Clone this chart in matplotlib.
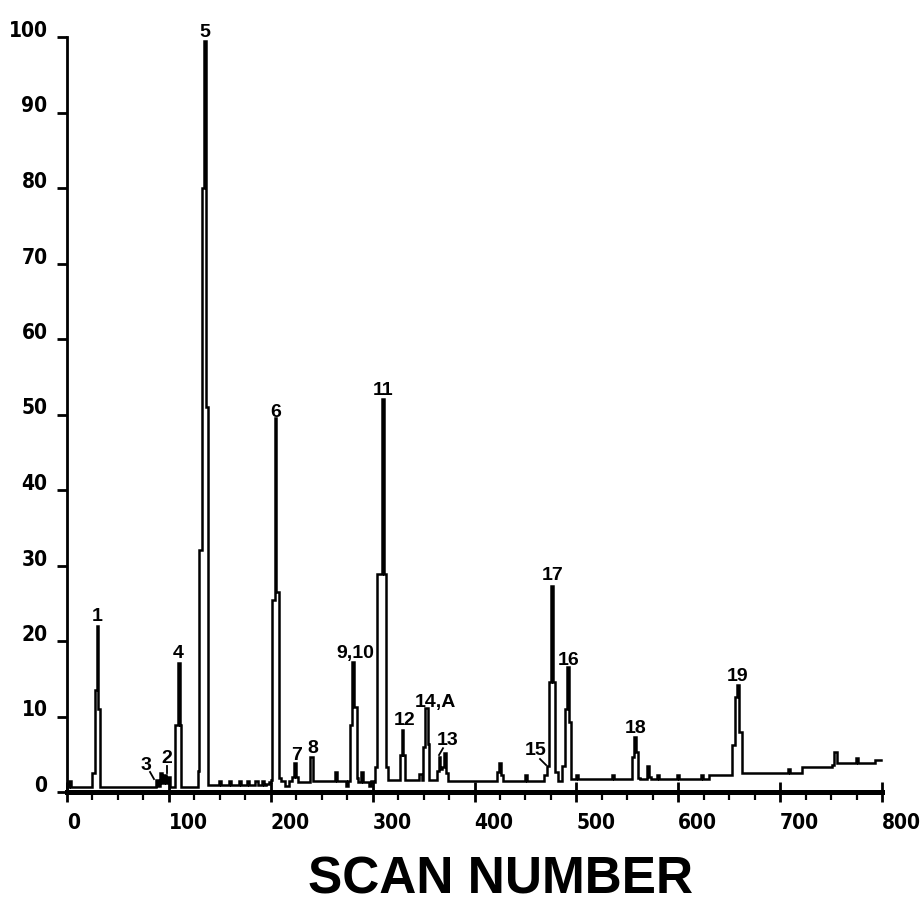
import matplotlib
matplotlib.use("Agg")
import matplotlib.pyplot as plt
from matplotlib import font_manager as fm
from matplotlib.ticker import MultipleLocator

# ---------------- data ----------------
scan_no = [0, 3, 5, 24, 26, 28, 30, 31, 33,
           86, 88, 90, 92, 94, 96, 98, 100, 102,
           106, 107, 108.5, 110, 111, 112,
           128, 129, 131, 133.5, 135.5, 137.5, 139,
           148, 150, 152, 158, 160, 162, 168, 170, 172, 176, 178, 180,
           184, 186, 188, 190, 192, 194, 197,
           199, 201, 202, 204, 205, 206, 207, 208.5,
           212, 215, 217, 219, 222, 224, 226, 228, 238, 240, 242,
           262, 264, 266, 272, 275, 277,
           278.5, 280.5, 282, 283.5, 285,
           287, 289.5, 292, 295, 297, 300, 301,
           303.5, 306, 308, 310, 312, 314, 316,
           326, 327.5, 329.5, 331, 332.5,
           345, 347, 349, 350.5, 353, 355, 356.5,
           362, 364, 365.5, 367.5, 369.5, 371.5, 373.5, 375,
           420, 423.5, 425.5, 427.5, 429, 449, 451, 453,
           467, 470, 472.5, 474.5, 476.5, 478.5, 480.5, 482.5,
           485, 487.5, 489.5, 491.5, 493.5, 495,
           499, 501, 503, 534, 536, 538,
           553, 555.5, 557.5, 559.5, 561.5,
           564, 568, 570.5, 572.5, 574, 578, 580, 582,
           598, 600, 602, 621, 623, 625, 630, 631,
           652, 654.5, 656.5, 658.5, 660.5, 662, 663.5,
           706, 708.5, 711, 720, 722.5, 750, 752, 754.5, 756.5,
           773, 775, 777, 792, 795, 799]

intensity = [0.7, 1.5, 0.7, 0.7, 2.5, 13.5, 22.0, 11.0, 0.7,
             0.7, 1.6, 0.8, 2.5, 1.2, 2.3, 1.2, 2.0, 0.7,
             0.7, 8.9, 8.9, 17.1, 8.9, 0.7,
             0.7, 2.8, 32.0, 80.0, 99.5, 51.0, 0.9,
             0.9, 1.4, 0.9, 0.9, 1.4, 0.9, 0.9, 1.4, 0.9, 0.9, 1.4, 0.9,
             0.9, 1.4, 0.9, 0.9, 1.4, 0.9, 1.1,
             1.3, 1.6, 25.4, 25.4, 49.5, 26.5, 26.5, 1.8,
             1.5, 0.8, 0.8, 1.5, 2.0, 3.8, 2.0, 1.3, 1.3, 4.6, 1.4,
             1.4, 2.6, 1.4, 1.4, 0.8, 1.5,
             8.9, 17.2, 11.3, 11.3, 1.8,
             1.3, 2.6, 1.3, 1.3, 0.8, 1.5, 1.3,
             3.3, 28.9, 28.9, 52.0, 28.9, 3.3, 1.6,
             1.6, 4.9, 8.2, 4.9, 1.6,
             1.6, 2.4, 1.6, 6.0, 11.1, 6.3, 1.6,
             1.6, 2.8, 4.6, 3.0, 3.3, 5.2, 2.5, 1.5,
             1.5, 2.6, 3.9, 2.2, 1.5, 1.5, 2.3, 1.5,
             1.5, 2.3, 3.4, 14.6, 27.3, 14.6, 2.6, 1.5,
             1.5, 3.4, 11.0, 16.5, 9.3, 1.7,
             1.7, 2.3, 1.7, 1.7, 2.3, 1.7,
             1.7, 4.6, 7.3, 5.3, 1.9,
             1.7, 1.7, 3.4, 2.0, 1.7, 1.7, 2.3, 1.7,
             1.7, 2.2, 1.7, 1.7, 2.2, 1.7, 1.7, 2.2,
             2.2, 6.2, 12.6, 14.2, 8.0, 8.0, 2.5,
             2.5, 3.0, 2.5, 2.5, 3.3, 3.3, 3.6, 5.3, 3.9,
             3.9, 4.5, 3.9, 3.9, 4.2, 4.2]

peak_labels = ["1", "3", "2", "4", "5", "6", "7", "8", "9,10", "11",
               "12", "14,A", "13", "15", "17", "16", "18", "19"]
label_scan = [29.4, 77.5, 98.2, 109.0, 135.5, 205.2, 225.8, 241.5, 282.7, 310.2,
              331.8, 361.2, 374.0, 460.4, 477.0, 492.8, 558.5, 658.7]
label_level = [22.6, 2.9, 3.8, 17.7, 100.0, 49.7, 4.2, 5.2, 17.7, 52.6,
               8.9, 11.3, 6.2, 4.9, 28.1, 16.8, 7.8, 14.7]

# short pointer strokes: (x0, y0, x1, y1) in data units
leader_x0 = [81.5, 98.2, 365.2, 464.3]
leader_y0 = [2.65, 3.44, 4.9, 4.37]
leader_x1 = [85.4, 98.2, 369.1, 470.2]
leader_y1 = [1.72, 2.5, 5.8, 3.58]

x_ticks = [0, 100, 200, 300, 400, 500, 600, 700, 800]
y_ticks = [0, 10, 20, 30, 40, 50, 60, 70, 80, 90, 100]
x_title = "SCAN NUMBER"


# ---------------- fonts ----------------
def font_path(**kw):
    try:
        return fm.findfont(fm.FontProperties(**kw), fallback_to_default=False)
    except Exception:
        return None


tick_kw = dict(family="DejaVu Sans Mono", weight="bold", size=13)
p = font_path(family="Liberation Sans Narrow", weight="bold")
if p and "Narrow" in p:
    tick_kw = dict(family="Liberation Sans Narrow", weight="bold", size=17)
else:
    p = font_path(family="DejaVu Sans", stretch="condensed", weight="bold")
    if p and "Condensed" in p:
        tick_kw = dict(family="DejaVu Sans", stretch="condensed", weight="bold", size=15)

label_family = ["Liberation Sans", "DejaVu Sans"]

# ---------------- figure ----------------
W, H = 921, 914
fig = plt.figure(figsize=(W / 100, H / 100), dpi=100)
ax = fig.add_axes([67 / W, 1 - 792 / H, (882 - 67) / W, (792 - 37) / H])

ax.plot(scan_no, intensity, drawstyle="steps-mid", color="black",
        lw=1.8, solid_joinstyle="miter", clip_on=False, zorder=3)

for t, xs, ys in zip(peak_labels, label_scan, label_level):
    ax.text(xs, ys, t, ha="center", va="baseline", fontsize=14,
            fontweight="bold", family=label_family, color="black",
            clip_on=False, zorder=4)

for a, b, c, d in zip(leader_x0, leader_y0, leader_x1, leader_y1):
    ax.plot([a, c], [b, d], color="black", lw=1.3, clip_on=False)

ax.set_xlim(0, 800)
ax.set_ylim(0, 100)

for s in ("top", "right"):
    ax.spines[s].set_visible(False)
ax.spines["left"].set_linewidth(2.0)
ax.spines["bottom"].set_linewidth(3.6)
ax.spines["left"].set_capstyle("projecting")

ax.set_xticks(x_ticks)
ax.set_yticks(y_ticks)
ax.xaxis.set_minor_locator(MultipleLocator(25))
ax.set_xticklabels([str(v) for v in x_ticks])
ax.set_yticklabels([str(v) for v in y_ticks])

ax.tick_params(axis="y", direction="out", length=7, width=2.0, pad=7)
ax.tick_params(axis="x", which="major", direction="inout", length=14, width=2.0, pad=8)
ax.tick_params(axis="x", which="minor", direction="out", length=6, width=1.6)

for lbl in ax.get_yticklabels():
    lbl.set_fontproperties(fm.FontProperties(**tick_kw))
    lbl.set_verticalalignment("baseline")
for lbl in ax.get_xticklabels():
    lbl.set_fontproperties(fm.FontProperties(**tick_kw))
    lbl.set_horizontalalignment("left")

fig.text(500 / W, 1 - 893 / H, x_title, ha="center", va="baseline",
         fontsize=37, fontweight="bold", family=["Liberation Sans", "DejaVu Sans"])

fig.savefig("out.png", dpi=100, facecolor="white")
